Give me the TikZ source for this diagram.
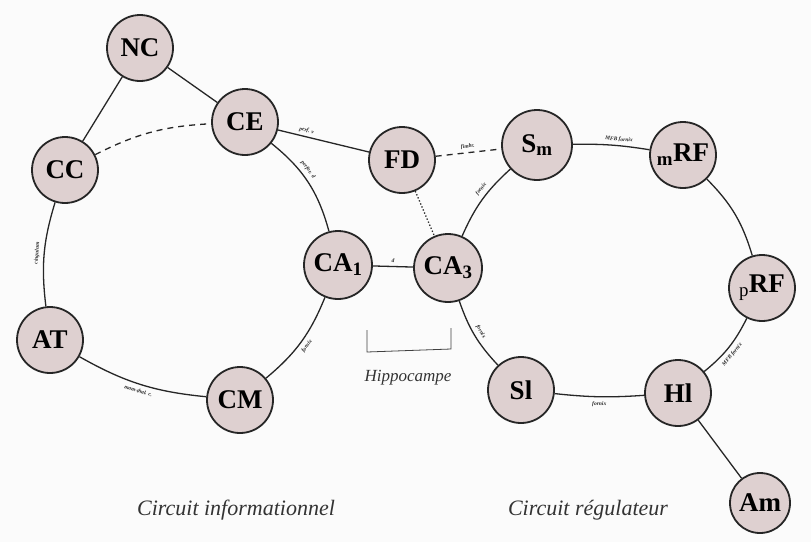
\documentclass[tikz,border=0pt]{standalone}
\usepackage{fontspec}
\setmainfont{Liberation Serif}
\begin{document}
\begin{tikzpicture}[x=1pt,y=-1pt,
  region/.style={circle,draw=black!85,line width=1.8pt,fill=nodefill,minimum size=66pt,inner sep=0pt,font=\fontsize{27}{29}\selectfont\bfseries},
  link/.style={line width=1.3pt,black!85},
  tiny/.style={font=\fontsize{5.5}{6}\selectfont\bfseries\itshape,sloped,inner sep=1pt},
  hand/.style={font=\fontsize{17}{19}\selectfont\itshape,black!80}]
\definecolor{nodefill}{RGB}{222,208,208}
\useasboundingbox (0,0) rectangle (811,542);
\fill[white!97!gray] (0,0) rectangle (811,542);
% nodes
\node[region] (NC) at (140,48) {NC};
\node[region] (CE) at (245,122) {CE};
\node[region] (CC) at (65,170) {CC};
\node[region] (FD) at (402,160) {FD};
\node[region,minimum size=70pt] (Sm) at (537,145) {S$_{\mathbf{m}}$};
\node[region] (RF) at (683,155) {$_{\mathbf{m}}$RF};
\node[region] (pRF) at (762,288) {$_{\mathrm{p}}$RF};
\node[region,minimum size=68pt] (CA1) at (338,265) {CA$_{\mathbf{1}}$};
\node[region,minimum size=68pt] (CA3) at (448,268) {CA$_{\mathbf{3}}$};
\node[region] (AT) at (50,340) {AT};
\node[region] (CM) at (240,400) {CM};
\node[region] (SI) at (521,390) {Sl};
\node[region] (HI) at (678,393) {Hl};
\node[region,minimum size=60pt] (Am) at (760,503) {Am};
% connectors
\draw[link] (NC) -- (CC);
\draw[link] (NC) -- (CE);
\draw[link,dash pattern=on 6pt off 5pt] (CC) to[bend left=12] (CE);
\draw[link] (CC) to[bend right=12] node[tiny,above=3pt] {cingulum} (AT);
\draw[link] (AT) to[bend right=12] node[tiny,below=3pt] {mam-thal. c.} (CM);
\draw[link] (CM) to[bend right=14] node[tiny,below=3pt] {fornix} (CA1);
\draw[link] (CE) to[bend left=18] node[tiny,above=3pt,pos=0.4] {perfor. d} (CA1);
\draw[link] (CE) -- node[tiny,above=2pt,pos=0.3] {perf. v} (FD);
\draw[link,dash pattern=on 6pt off 5pt] (FD) -- node[tiny,above=2pt] {fimbr.} (Sm);
\draw[link,dotted] (FD) -- (CA3);
\draw[link] (CA1) -- node[tiny,above=2pt] {d} (CA3);
\draw[link] (CA3) to[bend left=12] node[tiny,above=3pt,pos=0.6] {fornix} (Sm);
\draw[link] (CA3) to[bend right=12] node[tiny,above=3pt] {fornix} (SI);
\draw[link] (SI) to[bend right=5] node[tiny,below=3pt] {fornix} (HI);
\draw[link] (HI) to[bend right=12] node[tiny,below=3pt,pos=0.45] {MFB fornix} (pRF);
\draw[link] (pRF) to[bend right=14] (RF);
\draw[link] (Sm) to[bend left=5] node[tiny,above=2pt,pos=0.6] {MFB fornix} (RF);
\draw[link] (HI) -- (Am);
% hippocampus bracket
\coordinate (b1) at (367,330);
\coordinate (b2) at (367,352);
\coordinate (b3) at (451,349);
\coordinate (b4) at (451,328);
\draw[line width=0.8pt,black!75] (b1) -- (b2) -- (b3) -- (b4);
\node[hand] (hip) at (408,378) {Hippocampe};
\node[hand,font=\fontsize{22}{24}\selectfont\itshape] (ci) at (236,510) {Circuit informationnel};
\node[hand,font=\fontsize{22}{24}\selectfont\itshape] (cr) at (588,510) {Circuit régulateur};
\end{tikzpicture}
\end{document}
